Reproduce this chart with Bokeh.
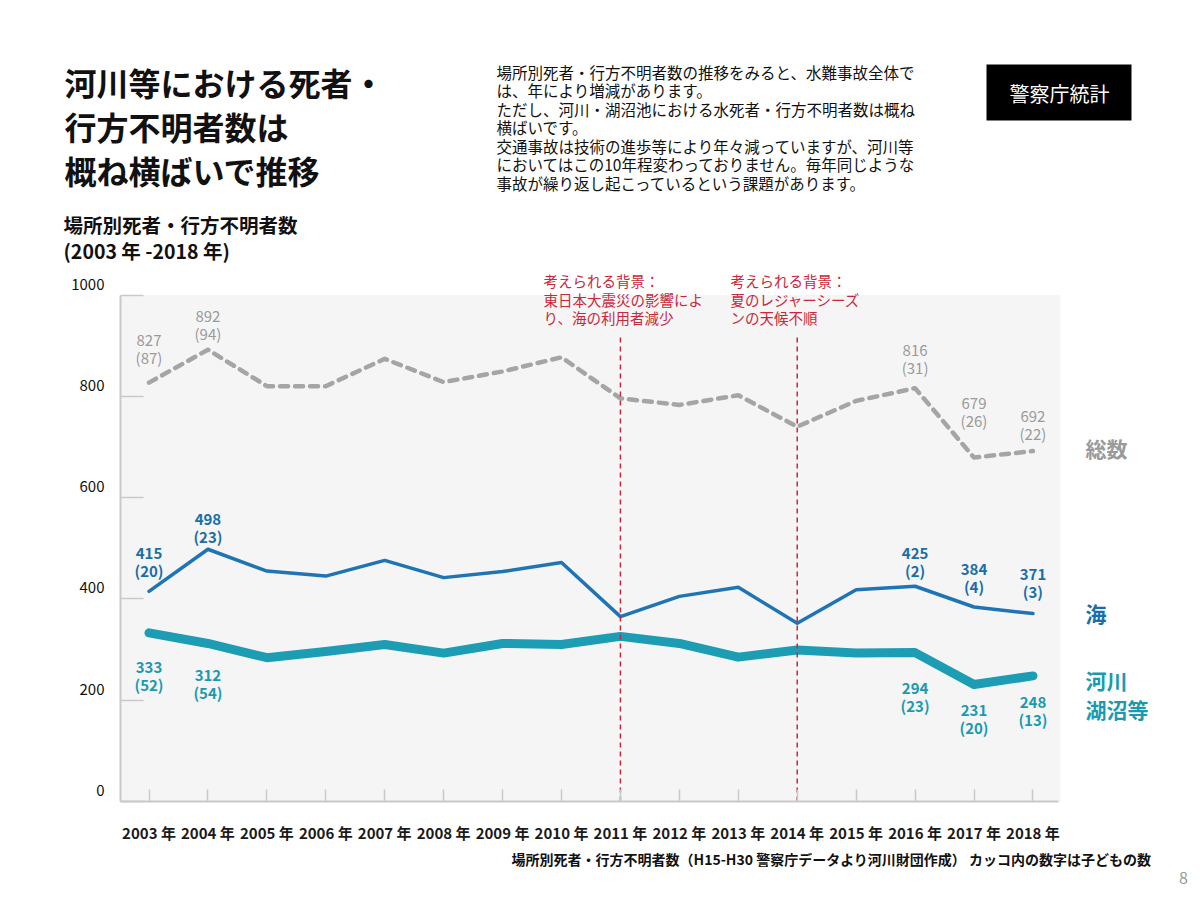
from bokeh.plotting import figure
from bokeh.models import Range1d, FixedTicker, Label, ColumnDataSource, BoxAnnotation
from bokeh.embed import file_html
from bokeh.resources import INLINE
from bokeh.core.properties import value

# ---------------- data ----------------
years = [2003, 2004, 2005, 2006, 2007, 2008, 2009, 2010,
         2011, 2012, 2013, 2014, 2015, 2016, 2017, 2018]
total = [827, 892, 820, 820, 874, 828, 849, 877, 796, 783, 802, 740, 791, 816, 679, 692]
sea = [415, 498, 455, 445, 476, 442, 454, 472, 365, 405, 423, 352, 418, 425, 384, 371]
river = [333, 312, 284, 296, 310, 293, 312, 310, 326, 312, 285, 299, 293, 294, 231, 248]

label_years = [2003, 2004, 2016, 2017, 2018]
total_children = [87, 94, 31, 26, 22]
sea_children = [20, 23, 2, 4, 3]
river_children = [52, 54, 23, 20, 13]

event_years = [2011, 2014]
y_ticks = [0, 200, 400, 600, 800, 1000]
x_tick_labels = [f"{y} 年" for y in years]

title_lines = ["河川等における死者・", "行方不明者数は", "概ね横ばいで推移"]
subtitle_lines = ["場所別死者・行方不明者数", "(2003 年 -2018 年)"]
para_lines = [
    "場所別死者・行方不明者数の推移をみると、水難事故全体で",
    "は、年により増減があります。",
    "ただし、河川・湖沼池における水死者・行方不明者数は概ね",
    "横ばいです。",
    "交通事故は技術の進歩等により年々減っていますが、河川等",
    "においてはこの10年程変わっておりません。毎年同じような",
    "事故が繰り返し起こっているという課題があります。",
]
note1_lines = ["考えられる背景：", "東日本大震災の影響によ", "り、海の利用者減少"]
note2_lines = ["考えられる背景：", "夏のレジャーシーズ", "ンの天候不順"]
badge_text = "警察庁統計"
series_names = ["総数", "海", "河川", "湖沼等"]
footer_text = "場所別死者・行方不明者数（H15-H30 警察庁データより河川財団作成）  カッコ内の数字は子どもの数"
page_no = "8"

# ---------------- layout (page pixels) ----------------
FONT = "Noto Sans CJK JP"
W, H = 1192, 890
OFF = 0
PX_FIRST, PX_STEP = 148.5, 58.93      # x pixel of first year, pixels per year
PY_ZERO, PY_TOP = 801.0, 294.5        # y pixel of 0 and of 1000
FL, FR = 120, 1060                    # plot panel left / right (page px)

# vertical pixel offsets of the two label lines from each labelled point
total_lab_dy = [-42, -33, -38, -54, -35]
sea_lab_dy = [-38, -30, -33, -38, -39]
river_lab_dy = [35, 32, 36, 26, 27]
LINE_GAP = 17


def dx(px):
    return years[0] + (px - PX_FIRST) / PX_STEP


def dy(py):
    return (PY_ZERO - py) * 1000.0 / (PY_ZERO - PY_TOP)


GRAY = "#a5a5a5"
GRAY_T = "#9a9a9a"
BLUE = "#1f74b5"
BLUE_T = "#1a6ea8"
TEAL = "#1c9db3"
TEAL_T = "#1a9ab0"
RED = "#c8283c"
AX = "#c9c9c9"

p = figure(width=W, height=H, output_backend="svg", toolbar_location=None,
           x_range=Range1d(dx(OFF), dx(OFF + W)),
           y_range=Range1d(dy(OFF + H), dy(OFF)),
           min_border_left=0, min_border_right=0, min_border_top=0, min_border_bottom=0)
p.background_fill_color = "white"
p.border_fill_color = "white"
p.outline_line_color = None
p.grid.visible = False

x_left, x_right = dx(FL), dx(FR)
p.add_layout(BoxAnnotation(left=x_left, right=x_right, bottom=0, top=1000,
                           fill_color="#f5f5f5", fill_alpha=1.0, line_color=None,
                           level="underlay"))

# axes, fixed at the panel edges
p.xaxis.fixed_location = 0
p.xaxis.bounds = (x_left, dx(FR - 2))
p.xaxis.ticker = FixedTicker(ticks=years)
p.xaxis.major_label_overrides = {y: t for y, t in zip(years, x_tick_labels)}
p.xaxis.major_tick_in = 12
p.xaxis.major_tick_out = 0
p.xaxis.minor_tick_line_color = None
p.xaxis.axis_line_color = AX
p.xaxis.axis_line_width = 2
p.xaxis.major_tick_line_color = AX
p.xaxis.major_tick_line_width = 1.5
p.xaxis.major_label_standoff = 20
p.xaxis.major_label_text_font = FONT
p.xaxis.major_label_text_font_size = "15px"
p.xaxis.major_label_text_font_style = "bold"
p.xaxis.major_label_text_color = "#1a1a1a"

p.yaxis.fixed_location = x_left
p.yaxis.bounds = (0, 1000)
p.yaxis.ticker = FixedTicker(ticks=y_ticks)
p.yaxis.major_label_overrides = {v: "" for v in y_ticks}
p.yaxis.major_tick_in = 23
p.yaxis.major_tick_out = 0
p.yaxis.minor_tick_line_color = None
p.yaxis.axis_line_color = AX
p.yaxis.axis_line_width = 2
p.yaxis.major_tick_line_color = AX
p.yaxis.major_tick_line_width = 1.5

# y tick labels (sit a little above their ticks, as in the original)
p.text(x=[x_left] * len(y_ticks), y=y_ticks, text=[str(v) for v in y_ticks],
       x_offset=-16, y_offset=-11, text_align="right", text_baseline="middle",
       text_font=value(FONT), text_font_size="15px", text_color="#111111")

# series lines
p.line(years, total, line_color=GRAY, line_width=4.5, line_dash="8 7",
       line_cap="round", line_join="round")
p.line(years, sea, line_color=BLUE, line_width=3.5, line_join="round", line_cap="round")
p.line(years, river, line_color=TEAL, line_width=9, line_join="round", line_cap="round")

# event lines
p.segment(x0=event_years, y0=[0] * len(event_years), x1=event_years,
          y1=[dy(335)] * len(event_years), line_color=RED, line_width=1.5,
          line_dash="5 4")


# data labels: value line and (children) line
def add_point_labels(series, kids, offs, color, style):
    vals = [series[years.index(y)] for y in label_years]
    src = ColumnDataSource(dict(
        x=label_years, y=vals,
        t1=[str(v) for v in vals], t2=[f"({k})" for k in kids],
        o1=offs, o2=[o + LINE_GAP for o in offs]))
    for t, o in (("t1", "o1"), ("t2", "o2")):
        p.text(x="x", y="y", text=t, y_offset=o, source=src,
               text_font=value(FONT), text_font_size="15px",
               text_align="center", text_baseline="middle",
               text_color=color, text_font_style=style)


add_point_labels(total, total_children, total_lab_dy, GRAY_T, "normal")
add_point_labels(sea, sea_children, sea_lab_dy, BLUE_T, "bold")
add_point_labels(river, river_children, river_lab_dy, TEAL_T, "bold")


def add_text(px, py, text, size, color="#111111", style="normal", align="left",
             font=FONT, **kw):
    lbl = Label(x=dx(px), y=dy(py), text=text, text_font=font,
                text_font_size=f"{size}px", text_color=color, text_font_style=style,
                text_align=align, text_baseline="middle", **kw)
    p.add_layout(lbl)
    return lbl


for i, t in enumerate(title_lines):
    add_text(64, 81 + i * 44, t, 32, style="bold")
for i, t in enumerate(subtitle_lines):
    add_text(63, 224 + i * 26, t, 19.5, style="bold")
for i, t in enumerate(para_lines):
    add_text(496, 71 + i * 18.5, t, 15.5)
for i, t in enumerate(note1_lines):
    add_text(543, 280 + i * 18.5, t, 14.5, color=RED)
for i, t in enumerate(note2_lines):
    add_text(730, 280 + i * 18.5, t, 14.5, color=RED)

add_text(1058.5, 92, badge_text, 20, color="white", align="center",
         background_fill_color="black",
         padding=dict(left=23, right=22, top=14, bottom=13))

add_text(1085, 447, series_names[0], 21, color=GRAY_T, style="bold")
add_text(1085, 612, series_names[1], 21, color=BLUE_T, style="bold")
add_text(1085, 679, series_names[2], 21, color=TEAL_T, style="bold")
add_text(1085, 708, series_names[3], 21, color=TEAL_T, style="bold")

add_text(1154, 858, footer_text, 14, style="bold", align="right")
add_text(1183, 877, page_no, 16, color="#999999", align="center")

open("out.html", "w").write(file_html(p, INLINE))
